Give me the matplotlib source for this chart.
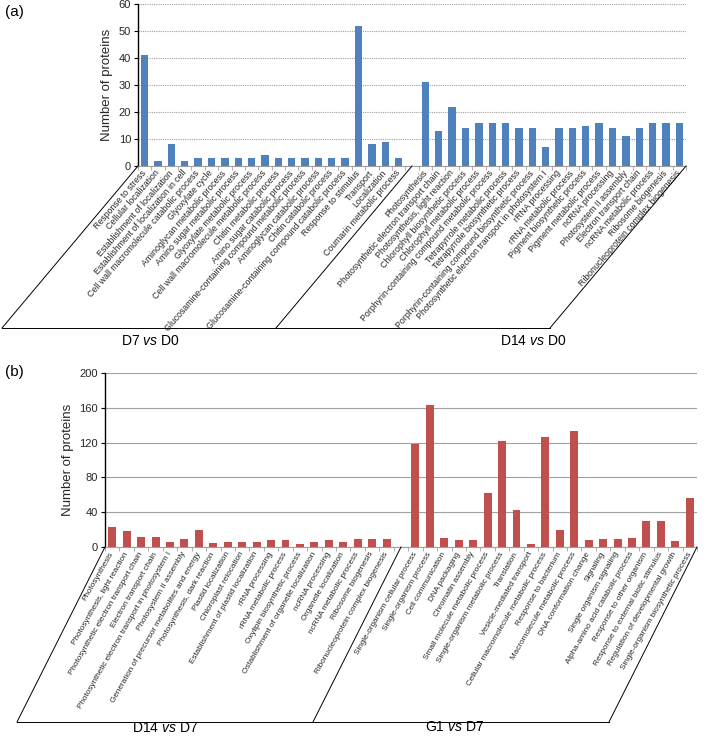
import numpy as np
import matplotlib
matplotlib.use('Agg')
import matplotlib.pyplot as plt
from matplotlib.lines import Line2D

plt.rcParams['font.family'] = 'Liberation Sans'
plt.rcParams['mathtext.fontset'] = 'custom'
plt.rcParams['mathtext.rm'] = 'Liberation Sans'
plt.rcParams['mathtext.it'] = 'Liberation Sans:italic'

# ---- panel (a) data ----
d7_d0_terms = [
    'Response to stress', 'Cellular localization', 'Establishment of localization',
    'Establishment of localization in cell', 'Cell wall macromolecule catabolic process',
    'Glyoxylate cycle', 'Aminoglycan metabolic process', 'Amino sugar metabolic process',
    'Glyoxylate metabolic process', 'Cell wall macromolecule metabolic process',
    'Chitin metabolic process', 'Amino sugar catabolic process',
    'Glucosamine-containing compound metabolic process', 'Aminoglycan catabolic process',
    'Chitin catabolic process', 'Glucosamine-containing compound catabolic process',
    'Response to stimulus', 'Transport', 'Localization', 'Coumarin metabolic process',
]
d7_d0_counts = [41, 2, 8, 2, 3, 3, 3, 3, 3, 4, 3, 3, 3, 3, 3, 3, 52, 8, 9, 3]

d14_d0_terms = [
    'Photosynthesis', 'Photosynthetic electron transport chain',
    'Photosynthesis, light reaction', 'Chlorophyll biosynthetic process',
    'Chlorophyll metabolic process', 'Porphyrin-containing compound metabolic process',
    'Tetrapyrrole metabolic process', 'Tetrapyrrole biosynthetic process',
    'Porphyrin-containing compound biosynthetic process',
    'Photosynthetic electron transport in photosystem I', 'rRNA processing',
    'rRNA metabolic process', 'Pigment biosynthetic process', 'Pigment metabolic process',
    'ncRNA processing', 'Photosystem II assembly', 'Electron transport chain',
    'ncRNA metabolic process', 'Ribosome biogenesis', 'Ribonucleoprotein complex biogenesis',
]
d14_d0_counts = [31, 13, 22, 14, 16, 16, 16, 14, 14, 7, 14, 14, 15, 16, 14, 11, 14, 16, 16, 16]

# ---- panel (b) data ----
d14_d7_terms = [
    'Photosynthesis', 'Photosynthesis, light reaction',
    'Photosynthetic electron transport chain', 'Electron transport chain',
    'Photosynthetic electron transport in photosystem I', 'Photosystem II assembly',
    'Generation of precursor metabolites and energy', 'Photosynthesis, dark reaction',
    'Plastid localization', 'Chloroplast relocation', 'Establishment of plastid localization',
    'rRNA processing', 'rRNA metabolic process', 'Oxylipin biosynthetic process',
    'Ostablishment of organelle localization', 'ncRNA processing', 'Organelle localization',
    'ncRNA metabolic process', 'Ribosome biogenesis', 'Ribonucleoprotein complex biogenesis',
]
d14_d7_counts = [23, 18, 11, 11, 6, 9, 19, 5, 6, 6, 6, 8, 8, 3, 6, 8, 6, 9, 9, 9]

g1_d7_terms = [
    'Single-organism cellular process', 'Single-organism process', 'Cell communication',
    'DNA packaging', 'Chromatin assembly', 'Small molecule metabolic process',
    'Single-organism metabolic process', 'Translation', 'Vesicle-mediated transport',
    'Cellular macromolecule metabolic process', 'Response to bacterium',
    'Macromolecule metabolic process', 'DNA conformation change', 'Signaling',
    'Single organism signaling', 'Alpha-amino acid catabolic process',
    'Response to other organism', 'Response to external biotic stimulus',
    'Regulation of developmental growth', 'Single-organism biosynthetic process',
]
g1_d7_counts = [118, 163, 10, 8, 8, 62, 122, 42, 3, 127, 20, 133, 8, 9, 9, 10, 30, 30, 7, 56]

W, H = 709, 736
fig = plt.figure(figsize=(W / 100, H / 100), dpi=100)


def px(x, y):
    # pixel (from top-left) -> figure fraction
    return x / W, 1 - y / H


def panel(rect, terms1, counts1, terms2, counts2, color, ymax, ystep,
          rot, lab_size, dotted, slant, names, name_xy):
    ax = fig.add_axes(rect)
    n1 = len(terms1)
    pos1 = np.arange(n1)
    pos2 = np.arange(len(terms2)) + n1 + 1   # one empty slot between groups
    ax.bar(pos1, counts1, width=0.55, color=color, zorder=3)
    ax.bar(pos2, counts2, width=0.55, color=color, zorder=3)
    nslots = n1 + 1 + len(terms2)
    ax.set_xlim(-0.5, nslots - 0.5)
    ax.set_ylim(0, ymax)
    ax.set_yticks(np.arange(0, ymax + 1, ystep))
    ax.set_xticks(np.concatenate([pos1, pos2]))
    ax.set_xticklabels(terms1 + terms2, rotation=rot, ha='right', va='center',
                       rotation_mode='anchor', fontsize=lab_size, color='#262626')
    ax.set_xticks(np.arange(-0.5, nslots, 1), minor=True)
    ax.tick_params(axis='x', which='major', length=0, pad=4)
    ax.tick_params(axis='x', which='minor', length=3, color='#a0a0a0', width=0.6)
    ax.tick_params(axis='y', length=3, width=0.8, labelsize=8, pad=2,
                   labelcolor='#262626')
    ax.yaxis.grid(True, color='#a0a0a0', lw=0.8,
                  linestyle=(0, (1, 1)) if dotted else '-', zorder=0)
    for s in ['top', 'right']:
        ax.spines[s].set_visible(False)
    ax.spines['bottom'].set_color('#a0a0a0')
    ax.spines['bottom'].set_linewidth(0.8)
    ax.spines['left'].set_linewidth(1.0)
    ax.set_ylabel('Number of proteins', fontsize=9.5, labelpad=4, color='#262626')

    # slanted category frame
    inv = fig.transFigure.inverted()
    tops = [ax.transAxes.transform((0, 0)),
            ax.transData.transform((n1, 0)),
            ax.transAxes.transform((1, 0))]
    dx, dy = slant
    bots = []
    for t in tops:
        b = (t[0] + dx, t[1] + dy)
        bots.append(b)
        p0, p1 = inv.transform(t), inv.transform(b)
        fig.add_artist(Line2D([p0[0], p1[0]], [p0[1], p1[1]], color='black', lw=0.7))
    p0, p1 = inv.transform(bots[0]), inv.transform(bots[-1])
    fig.add_artist(Line2D([p0[0], p1[0]], [p0[1], p1[1]], color='black', lw=0.7))
    for nm, (x, y) in zip(names, name_xy):
        fx, fy = px(x, y)
        fig.text(fx, fy, nm, ha='center', va='center', fontsize=10)
    return ax


ax_a = panel([138 / W, 1 - 166 / H, (686 - 138) / W, 162 / H],
             d7_d0_terms, d7_d0_counts, d14_d0_terms, d14_d0_counts,
             '#4f81bd', 60, 10, 49, 6.3, True, (-136, -162),
             [r'D7 $\mathit{vs}$ D0', r'D14 $\mathit{vs}$ D0'],
             [(150, 341), (533, 341)])

ax_b = panel([105 / W, 1 - 547 / H, (697 - 105) / W, 174 / H],
             d14_d7_terms, d14_d7_counts, g1_d7_terms, g1_d7_counts,
             '#c0504d', 200, 40, 60, 5.9, False, (-88, -175),
             [r'D14 $\mathit{vs}$ D7', r'G1 $\mathit{vs}$ D7'],
             [(165, 728), (455, 727)])

fig.text(*px(5, 12), '(a)', fontsize=11, va='center', ha='left')
fig.text(*px(5, 372), '(b)', fontsize=11, va='center', ha='left')

fig.savefig('out.png', dpi=100)
